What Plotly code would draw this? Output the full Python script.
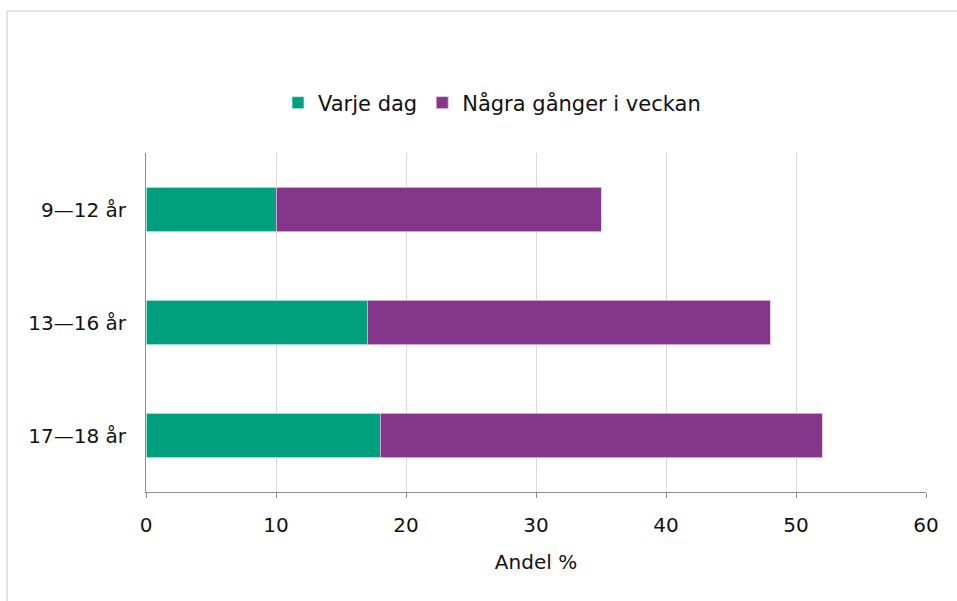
import plotly.graph_objects as go

# Age groups and shares (%)
categories = ["9—12 år", "13—16 år", "17—18 år"]
varje_dag = [10, 17, 18]
nagra_ganger = [25, 31, 34]
series_names = ["Varje dag", "Några gånger i veckan"]
x_ticks = [0, 10, 20, 30, 40, 50, 60]

GREEN = "#009F7E"
PURPLE = "#84368A"
FONT = "DejaVu Sans"

fig = go.Figure()
fig.add_trace(go.Bar(
    y=categories, x=varje_dag, name=series_names[0], orientation="h",
    marker=dict(color=GREEN, line=dict(color="#c8ece2", width=0.8)),
))
fig.add_trace(go.Bar(
    y=categories, x=nagra_ganger, name=series_names[1], orientation="h",
    marker=dict(color=PURPLE, line=dict(color="#e2c6e6", width=0.8)),
))

fig.update_layout(
    barmode="stack",
    bargap=0.61,
    width=957, height=601,
    margin=dict(l=146, r=31, t=153, b=109),
    paper_bgcolor="white",
    plot_bgcolor="white",
    font=dict(family=FONT, size=20, color="#111111"),
    legend=dict(
        orientation="h", x=0.4436, xanchor="center", y=1.1475, yanchor="middle",
        font=dict(family=FONT, size=21, color="#111111"),
        itemwidth=30, traceorder="normal",
    ),
    xaxis=dict(
        range=[0, 60], tickvals=x_ticks, ticktext=[str(v) for v in x_ticks],
        showgrid=True, gridcolor="#d9d9d9", gridwidth=1,
        showline=True, linecolor="#8c8c8c", linewidth=1,
        ticks="outside", ticklen=5, tickcolor="#8c8c8c",
        ticklabelstandoff=10,
        zeroline=False,
        title=dict(text="Andel %", standoff=18, font=dict(family=FONT, size=20)),
        tickfont=dict(family=FONT, size=20),
    ),
    yaxis=dict(
        categoryorder="array", categoryarray=categories[::-1],
        showline=True, linecolor="#8c8c8c", linewidth=1,
        showgrid=False, ticks="", ticklabelstandoff=15,
        tickfont=dict(family=FONT, size=20),
    ),
    shapes=[
        # outer chart frame (top and left edges)
        dict(type="line", xref="paper", yref="paper",
             x0=-0.1782, x1=1.2, y0=1.4189, y1=1.4189,
             line=dict(color="#c8c8c8", width=1)),
        dict(type="line", xref="paper", yref="paper",
             x0=-0.1782, x1=-0.1782, y0=1.4189, y1=-0.5,
             line=dict(color="#c8c8c8", width=1)),
    ],
)

fig.write_html("out.html")
